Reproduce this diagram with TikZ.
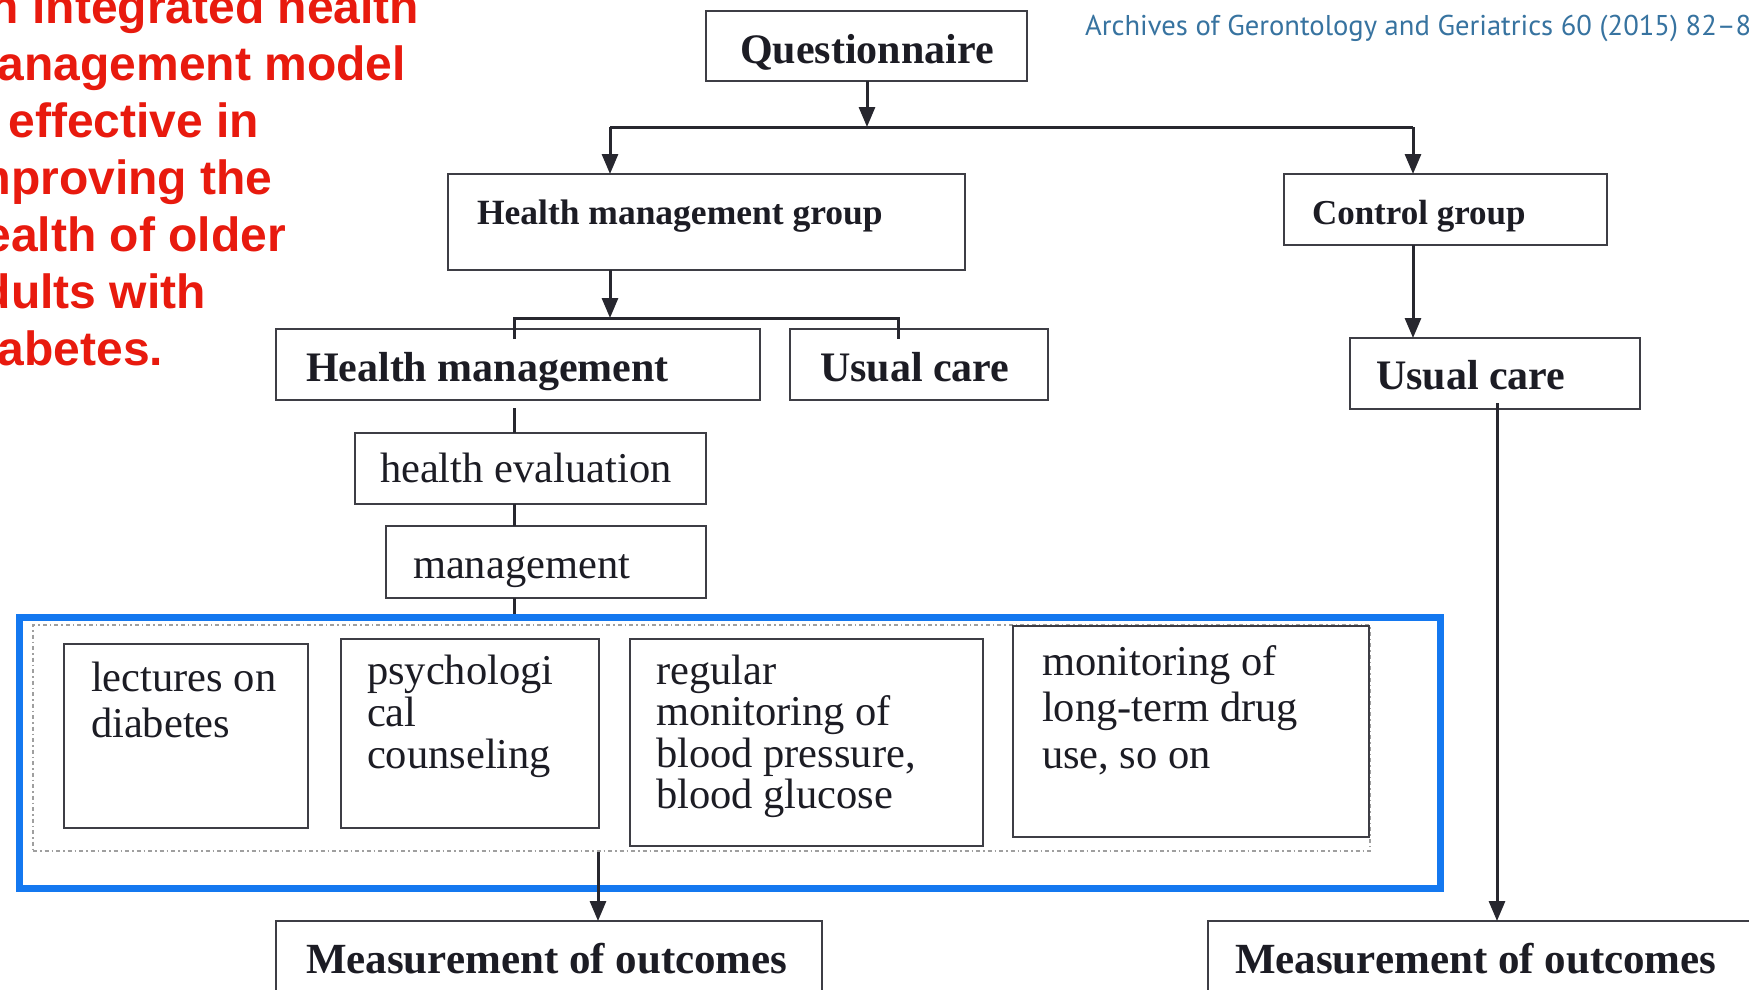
\documentclass[tikz,border=0pt]{standalone}
\usepackage{fontspec}
\setmainfont{Liberation Serif}
\newfontfamily\headfont{Liberation Sans}
\newfontfamily\citefont{PT Sans}
\usetikzlibrary{arrows.meta,fit}
\definecolor{hlblue}{RGB}{20,120,240}
\definecolor{titlered}{RGB}{232,26,14}
\definecolor{citeblue}{RGB}{55,115,160}
\definecolor{ink}{RGB}{28,28,36}
\newcommand\sz[2]{\fontsize{#1}{#2}\selectfont}
\begin{document}
\begin{tikzpicture}[x=1pt,y=-1pt,
  box/.style={draw=ink!85, line width=2.7pt, inner sep=0pt, outer sep=0pt},
  conn/.style={draw=ink!95, line width=3pt},
  arr/.style={conn, -{Triangle[length=20pt,width=16pt]}},
  lbl/.style={inner sep=0pt, outer sep=0pt, text=ink},
  head/.style={lbl, font=\bfseries\sz{42}{46}},
  body/.style={lbl, font=\sz{42.5}{42}},
  title/.style={inner sep=0pt, anchor=base west, text=titlered, font=\headfont\bfseries\sz{48}{57}},
]
\useasboundingbox (0,0) rectangle (1749,989);
\clip (0,0) rectangle (1749,989);
\fill[white] (0,0) rectangle (1749,989);

% headline on the left
\node[title] (t1) at (-45,23)  {An integrated health};
\node[title] (t2) at (-45,80)  {management model};
\node[title] (t3) at (-45,137) {is effective in};
\node[title] (t4) at (-45,194) {improving the};
\node[title] (t5) at (-45,251) {health of older};
\node[title] (t6) at (-45,308) {adults with};
\node[title] (t7) at (-45,365) {diabetes.};

% journal reference
\node[inner sep=0pt, anchor=base west, text=citeblue, font=\citefont\sz{28.6}{30}] (cite) at (1085,35)
  {Archives of Gerontology and Geriatrics 60 (2015) 82–8};

% boxes
\node[box, fit={(706,11)(1027,81)}] (q) {};
\node[box, fit={(448,174)(965,270)}] (hmg) {};
\node[box, fit={(1284,174)(1607,245)}] (ctrl) {};
\node[box, fit={(276,329)(760,400)}] (hm) {};
\node[box, fit={(790,329)(1048,400)}] (uca) {};
\node[box, fit={(1350,338)(1640,409)}] (ucb) {};
\node[box, fit={(355,433)(706,504)}] (he) {};
\node[box, fit={(386,526)(706,598)}] (mg) {};
\node[draw=gray!75, line width=1.6pt, dash pattern=on 4pt off 3pt on 1.5pt off 3pt,
      inner sep=0pt, fit={(33,625)(1370,851)}] (grp) {};
\node[box, fit={(64,644)(308,828)}] (lec) {};
\node[box, fit={(341,639)(599,828)}] (psy) {};
\node[box, fit={(630,639)(983,846)}] (reg) {};
\node[box, fit={(1013,626)(1369,837)}] (mon) {};
\node[box, fit={(276,921)(822,1010)}] (moa) {};
\node[box, fit={(1208,921)(1770,1010)}] (mob) {};
\node[draw=hlblue, line width=7pt, inner sep=0pt, fit={(19,617)(1440,888)}] (hl) {};

% labels
\node[head, anchor=base] (qt) at (867,63) {Questionnaire};
\node[head, anchor=base west, font=\bfseries\sz{35.5}{40}] (hmgt) at (477,224) {Health management group};
\node[head, anchor=base west, font=\bfseries\sz{35}{40}] (ctrlt) at (1312,224) {Control group};
\node[head, anchor=base west] (hmt) at (306,381) {Health management};
\node[head, anchor=base west] (ucat) at (820,381) {Usual care};
\node[head, anchor=base west] (ucbt) at (1376,389) {Usual care};
\node[body, anchor=base west] (het) at (380,482) {health evaluation};
\node[body, anchor=base west] (mgt) at (413,578) {management};
\node[body, anchor=base west] (lect) at (91,691)
  {\parbox[t]{220pt}{\raggedright\sz{42.5}{46}lectures on\\diabetes}};
\node[body, anchor=base west] (psyt) at (367,684)
  {\parbox[t]{230pt}{\raggedright\sz{42.5}{42}psychologi\\cal\\counseling}};
\node[body, anchor=base west] (regt) at (656,684)
  {\parbox[t]{320pt}{\raggedright\sz{42.5}{41.5}regular\\monitoring of\\blood pressure,\\blood glucose}};
\node[body, anchor=base west] (mont) at (1042,675)
  {\parbox[t]{320pt}{\raggedright\sz{42.5}{46.5}monitoring of\\long-term drug\\use, so on}};
\node[head, anchor=base west, font=\bfseries\sz{43}{46}] (moat) at (306,973) {Measurement of outcomes};
\node[head, anchor=base west, font=\bfseries\sz{43}{46}] (mobt) at (1235,973) {Measurement of outcomes};

% connectors
\coordinate (split) at (867,127);
\draw[arr] (q.south -| split) -- (split);
\draw[conn] (610,127) -- (1413,127);
\draw[arr] (610,127) -- (hmg.north -| 610,0);
\draw[arr] (1413,127) -- (ctrl.north -| 1413,0);
\coordinate (fork) at (610,318);
\draw[arr] (hmg.south -| fork) -- (fork);
\draw[conn] ([yshift=-10pt]hm.north -| 514,0) |- (fork) -| ([yshift=-10pt]uca.north -| 898,0);
\draw[conn] ([yshift=-8pt]hm.south -| 514,0) -- (he.north -| 514,0);
\draw[conn] (he.south -| 514,0) -- (mg.north -| 514,0);
\draw[conn] (mg.south -| 514,0) -- (hl.north -| 514,0);
\draw[arr] (ctrl.south -| 1413,0) -- (ucb.north -| 1413,0);
\draw[arr] ([yshift=6pt]ucb.south -| 1497,0) -- (mob.north -| 1497,0);
\draw[arr] (grp.south -| 598,0) -- (moa.north -| 598,0);
\end{tikzpicture}
\end{document}
